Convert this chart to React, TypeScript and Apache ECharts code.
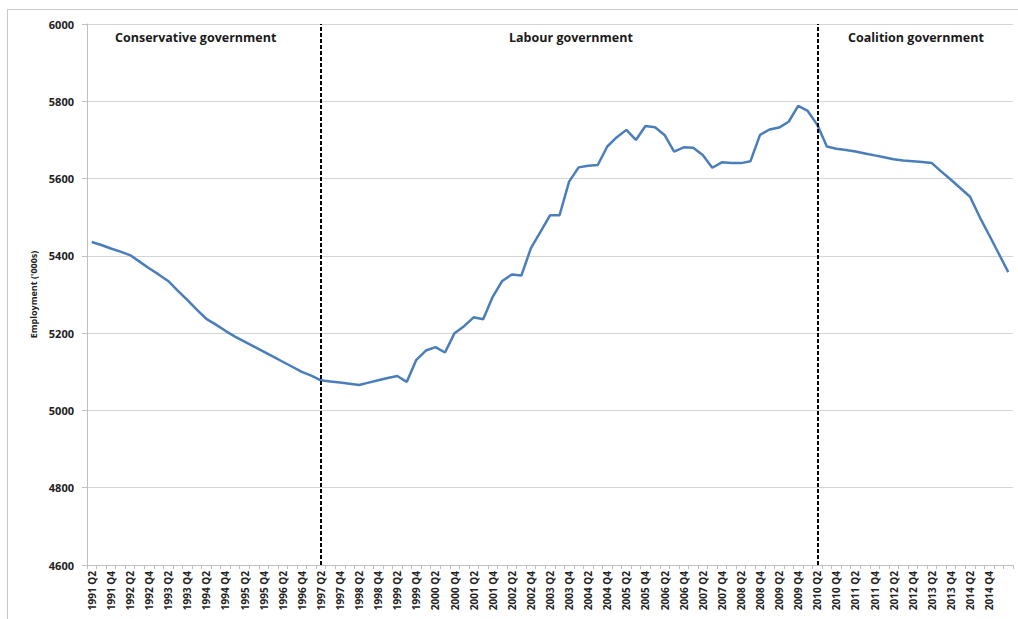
import React, { useEffect, useRef } from "react";
import * as echarts from "echarts";

const years: number[] = [];
for (let y = 1991; y <= 2015; y++) years.push(y);
const quarters = ["Q1", "Q2", "Q3", "Q4"];
const categories: string[] = [];
years.forEach((y) =>
  quarters.forEach((q) => {
    const key = `${y} ${q}`;
    if ((y > 1991 || q !== "Q1") && (y < 2015 || q === "Q1" || q === "Q2")) categories.push(key);
  })
);

const employment: number[] = [
  5436, 5428, 5419, 5411, 5402, 5385, 5368, 5352, 5335, 5310,
  5286, 5261, 5237, 5222, 5206, 5191, 5178, 5165, 5152, 5139,
  5126, 5113, 5100, 5090, 5078, 5075, 5072, 5069, 5066, 5072,
  5078, 5084, 5089, 5074, 5131, 5155, 5164, 5150, 5200, 5218,
  5241, 5236, 5294, 5335, 5352, 5349, 5420, 5462, 5505, 5505,
  5592, 5629, 5633, 5635, 5683, 5707, 5726, 5700, 5736, 5733,
  5713, 5670, 5681, 5680, 5661, 5628, 5642, 5640, 5640, 5645,
  5713, 5727, 5732, 5747, 5788, 5775, 5739, 5683, 5677, 5674,
  5670, 5665, 5660, 5655, 5650, 5647, 5645, 5643, 5640, 5618,
  5597, 5575, 5553, 5501, 5454, 5406, 5358,
];

const governmentChanges: string[] = ["1997 Q2", "2010 Q2"];
const periodLabels: string[] = ["Conservative government", "Labour government", "Coalition government"];

const FONT = "'Open Sans', 'DejaVu Sans', sans-serif";

export default function App() {
  const ref = useRef<HTMLDivElement>(null);
  useEffect(() => {
    document.body.style.margin = "0";
    if (!ref.current) return;
    const chart = echarts.init(ref.current, undefined, { renderer: "svg" });
    const labelStyle = { fontFamily: FONT, fontSize: 12.5, fontWeight: "bold", fill: "#1a1a1a" };
    chart.setOption({
      animation: false,
      backgroundColor: "#ffffff",
      textStyle: { fontFamily: FONT },
      grid: { left: 87, right: 5, top: 24, bottom: 54, containLabel: false },
      graphic: [
        {
          type: "rect",
          shape: { x: 7.5, y: 9.5, width: 1040, height: 640 },
          style: { fill: "none", stroke: "#c8c8c8", lineWidth: 1 },
          silent: true,
        },
        { type: "text", left: 115, top: 31, style: { text: periodLabels[0], ...labelStyle } },
        { type: "text", left: 509, top: 31, style: { text: periodLabels[1], ...labelStyle } },
        { type: "text", left: 848, top: 31, style: { text: periodLabels[2], ...labelStyle } },
      ],
      xAxis: {
        type: "category",
        data: categories,
        boundaryGap: true,
        axisLine: { lineStyle: { color: "#bfbfbf", width: 1 } },
        axisTick: { show: true, interval: 0, length: 4, lineStyle: { color: "#bfbfbf" } },
        axisLabel: {
          rotate: 90,
          margin: 6,
          fontSize: 10,
          fontWeight: "bold",
          color: "#222",
          fontFamily: FONT,
          interval: (index: number) => index % 2 === 0 && index < categories.length - 1,
        },
        splitLine: { show: false },
      },
      yAxis: {
        type: "value",
        min: 4600,
        max: 6000,
        interval: 200,
        name: "Employment ('000s)",
        nameLocation: "middle",
        nameGap: 48,
        nameTextStyle: { fontSize: 9, fontWeight: "bold", color: "#222", fontFamily: FONT },
        axisLine: { show: true, lineStyle: { color: "#bfbfbf", width: 1 } },
        axisTick: { show: true, length: 5, lineStyle: { color: "#bfbfbf" } },
        axisLabel: {
          fontSize: 11,
          fontWeight: "bold",
          color: "#222",
          margin: 13,
          fontFamily: FONT,
          formatter: (v: number) => String(v),
        },
        splitLine: { show: true, lineStyle: { color: "#d4d4d4", width: 1 } },
      },
      series: [
        {
          type: "line",
          data: employment,
          symbol: "none",
          smooth: false,
          lineStyle: { color: "#4a7ebb", width: 2.5 },
          markLine: {
            silent: true,
            symbol: ["none", "none"],
            label: { show: false },
            lineStyle: { color: "#000000", type: [4, 2], width: 2 },
            data: governmentChanges.map((g) => ({ xAxis: g })),
          },
        },
      ],
    });
    return () => chart.dispose();
  }, []);
  return <div ref={ref} style={{ width: 1018, height: 619 }} />;
}
